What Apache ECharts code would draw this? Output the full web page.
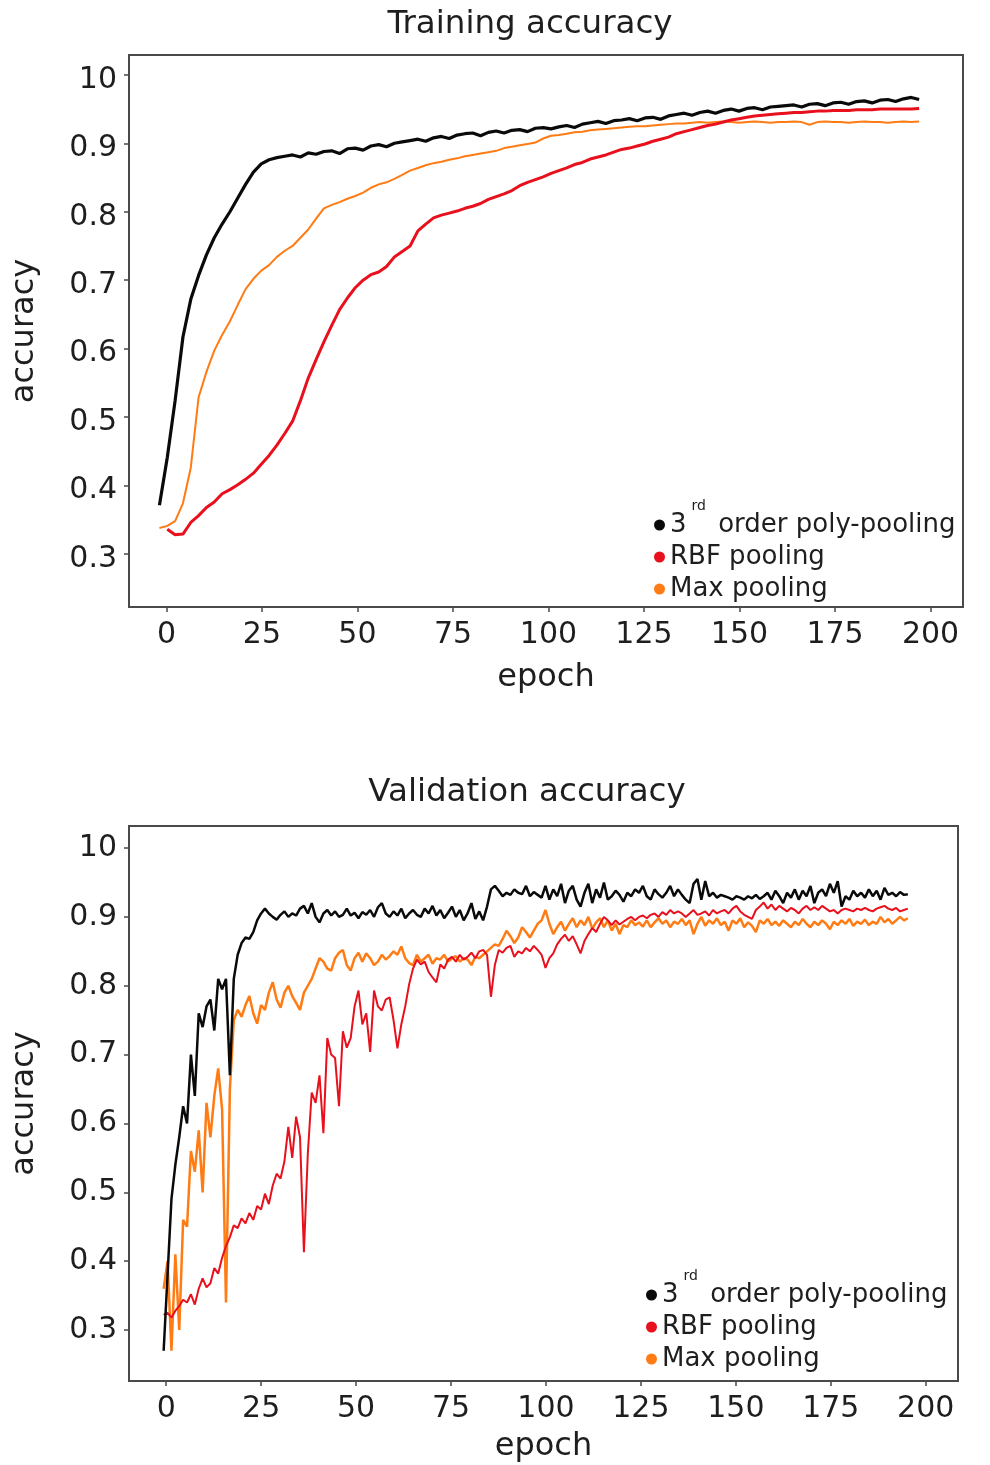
<!DOCTYPE html>
<html><head><meta charset="utf-8">
<script src="https://cdn.jsdelivr.net/npm/echarts@6/dist/echarts.min.js"></script>
<style>html,body{margin:0;padding:0;background:#fff}#c{width:990px;height:1465px}</style>
</head><body><div id="c"></div>
<script>
const seriesNames = ['3rd order poly-pooling', 'RBF pooling', 'Max pooling'];
const xTicks = [0, 25, 50, 75, 100, 125, 150, 175, 200];
const yTicks = [0.3, 0.4, 0.5, 0.6, 0.7, 0.8, 0.9, 1.0];

// epochs of the plotted points (start + i*step)
const trainEpochStart = -1.83, trainEpochStep = 2.05;
const valEpochStart = -1.7, valEpochStep = 1.026;

const trainPoly = [0.371,0.441,0.524,0.617,0.672,0.707,0.737,0.762,0.782,0.80,
 0.82,0.84,0.858,0.87,0.876,0.879,0.881,0.883,0.880,0.886,
 0.884,0.888,0.889,0.885,0.892,0.893,0.890,0.896,0.898,0.895,
 0.90,0.902,0.904,0.906,0.903,0.908,0.91,0.907,0.912,0.914,
 0.915,0.911,0.916,0.918,0.915,0.919,0.92,0.917,0.922,0.923,
 0.921,0.924,0.926,0.923,0.928,0.93,0.932,0.929,0.933,0.934,
 0.936,0.933,0.937,0.938,0.935,0.94,0.942,0.944,0.941,0.945,
 0.947,0.944,0.948,0.95,0.947,0.951,0.952,0.949,0.953,0.954,
 0.955,0.956,0.953,0.957,0.958,0.955,0.959,0.96,0.957,0.961,
 0.962,0.959,0.963,0.964,0.961,0.965,0.967,0.964];
const trainRBF = [null,0.336,0.328,0.329,0.346,0.356,0.368,0.376,0.388,0.394,
 0.401,0.409,0.418,0.431,0.444,0.459,0.476,0.494,0.524,0.557,
 0.584,0.61,0.634,0.657,0.674,0.689,0.70,0.708,0.712,0.72,
 0.734,0.742,0.75,0.772,0.782,0.791,0.795,0.798,0.801,0.805,
 0.808,0.812,0.818,0.822,0.826,0.831,0.838,0.843,0.847,0.851,
 0.856,0.86,0.864,0.869,0.872,0.877,0.88,0.883,0.887,0.891,
 0.893,0.896,0.899,0.903,0.906,0.909,0.914,0.917,0.92,0.923,
 0.926,0.928,0.931,0.934,0.936,0.938,0.94,0.941,0.942,0.943,
 0.944,0.945,0.945,0.946,0.947,0.947,0.948,0.948,0.948,0.949,
 0.949,0.949,0.95,0.95,0.95,0.95,0.95,0.951];
const trainMax = [0.338,0.341,0.348,0.374,0.426,0.529,0.566,0.597,0.62,0.64,
 0.664,0.687,0.702,0.714,0.722,0.734,0.743,0.75,0.762,0.774,
 0.79,0.805,0.81,0.814,0.819,0.823,0.828,0.835,0.84,0.843,
 0.848,0.854,0.86,0.864,0.868,0.871,0.873,0.876,0.878,0.881,
 0.883,0.885,0.887,0.889,0.893,0.895,0.897,0.899,0.901,0.907,
 0.911,0.912,0.914,0.916,0.917,0.919,0.92,0.921,0.922,0.923,
 0.924,0.925,0.925,0.926,0.927,0.928,0.929,0.929,0.93,0.931,
 0.93,0.931,0.932,0.931,0.93,0.931,0.932,0.931,0.93,0.931,
 0.931,0.932,0.931,0.927,0.931,0.932,0.931,0.931,0.93,0.931,
 0.932,0.931,0.931,0.93,0.931,0.932,0.931,0.932];

const valPoly = [null,0.27,0.38,0.49,0.54,0.58,0.625,0.60,0.70,0.64,
 0.76,0.74,0.77,0.78,0.735,0.81,0.795,0.81,0.67,0.81,
 0.845,0.862,0.87,0.868,0.878,0.895,0.905,0.912,0.905,0.90,
 0.896,0.903,0.908,0.90,0.905,0.902,0.912,0.916,0.905,0.92,
 0.90,0.892,0.905,0.91,0.902,0.908,0.90,0.903,0.912,0.902,
 0.906,0.898,0.907,0.903,0.91,0.90,0.914,0.92,0.905,0.90,
 0.908,0.902,0.912,0.898,0.905,0.91,0.903,0.90,0.912,0.905,
 0.916,0.902,0.91,0.898,0.906,0.915,0.90,0.91,0.895,0.905,
 0.92,0.897,0.908,0.895,0.915,0.94,0.945,0.938,0.93,0.935,
 0.932,0.94,0.935,0.933,0.945,0.93,0.936,0.932,0.928,0.945,
 0.925,0.94,0.93,0.948,0.92,0.938,0.945,0.925,0.915,0.935,
 0.948,0.92,0.94,0.928,0.95,0.925,0.93,0.938,0.932,0.922,
 0.935,0.93,0.94,0.935,0.945,0.93,0.925,0.94,0.933,0.928,
 0.935,0.945,0.93,0.94,0.932,0.925,0.92,0.948,0.955,0.925,
 0.952,0.93,0.935,0.928,0.932,0.93,0.928,0.925,0.93,0.928,
 0.925,0.93,0.927,0.932,0.926,0.93,0.935,0.925,0.938,0.93,
 0.92,0.935,0.928,0.94,0.925,0.938,0.93,0.945,0.92,0.935,
 0.94,0.93,0.948,0.935,0.952,0.915,0.93,0.925,0.938,0.93,
 0.935,0.928,0.94,0.93,0.938,0.925,0.942,0.932,0.935,0.93,
 0.936,0.932,0.933];
const valRBF = [null,0.322,0.325,0.318,0.328,0.335,0.344,0.34,0.352,0.337,
 0.36,0.375,0.362,0.368,0.39,0.382,0.405,0.422,0.435,0.452,
 0.448,0.462,0.455,0.47,0.46,0.48,0.475,0.498,0.483,0.51,
 0.527,0.52,0.545,0.595,0.55,0.61,0.58,0.413,0.556,0.645,
 0.63,0.67,0.586,0.724,0.70,0.695,0.625,0.734,0.71,0.724,
 0.77,0.793,0.744,0.76,0.704,0.793,0.77,0.764,0.78,0.783,
 0.75,0.709,0.744,0.77,0.802,0.825,0.838,0.831,0.835,0.82,
 0.812,0.805,0.831,0.825,0.838,0.842,0.835,0.845,0.838,0.842,
 0.848,0.84,0.85,0.852,0.845,0.784,0.83,0.852,0.848,0.855,
 0.858,0.842,0.85,0.847,0.855,0.85,0.858,0.852,0.845,0.826,
 0.84,0.847,0.86,0.868,0.874,0.865,0.872,0.86,0.847,0.865,
 0.875,0.884,0.878,0.89,0.90,0.895,0.888,0.895,0.889,0.893,
 0.897,0.90,0.895,0.90,0.902,0.898,0.903,0.905,0.90,0.907,
 0.903,0.91,0.905,0.908,0.905,0.90,0.905,0.91,0.903,0.905,
 0.908,0.902,0.91,0.905,0.908,0.91,0.905,0.912,0.916,0.908,
 0.903,0.90,0.897,0.91,0.915,0.921,0.912,0.918,0.91,0.916,
 0.912,0.908,0.913,0.91,0.905,0.912,0.916,0.91,0.914,0.91,
 0.916,0.912,0.908,0.91,0.905,0.91,0.912,0.91,0.908,0.912,
 0.91,0.913,0.91,0.908,0.912,0.914,0.916,0.912,0.91,0.913,
 0.908,0.91,0.912];
const valMax = [null,0.36,0.40,0.27,0.41,0.30,0.46,0.45,0.56,0.53,
 0.59,0.50,0.63,0.58,0.64,0.68,0.62,0.34,0.65,0.75,
 0.765,0.755,0.772,0.785,0.76,0.745,0.772,0.765,0.79,0.805,
 0.78,0.768,0.79,0.80,0.785,0.775,0.765,0.79,0.80,0.81,
 0.825,0.84,0.835,0.825,0.822,0.84,0.848,0.852,0.83,0.822,
 0.84,0.848,0.835,0.847,0.84,0.83,0.835,0.845,0.838,0.843,
 0.85,0.845,0.857,0.84,0.833,0.83,0.845,0.835,0.84,0.845,
 0.832,0.84,0.838,0.845,0.835,0.84,0.843,0.835,0.84,0.838,
 0.83,0.842,0.84,0.845,0.85,0.855,0.86,0.858,0.868,0.88,
 0.872,0.862,0.87,0.885,0.878,0.87,0.88,0.89,0.895,0.91,
 0.89,0.875,0.885,0.893,0.88,0.89,0.898,0.885,0.895,0.888,
 0.90,0.883,0.892,0.898,0.885,0.895,0.88,0.89,0.875,0.888,
 0.885,0.895,0.888,0.892,0.886,0.895,0.885,0.892,0.898,0.89,
 0.895,0.885,0.893,0.89,0.897,0.888,0.895,0.875,0.89,0.90,
 0.887,0.895,0.89,0.898,0.888,0.893,0.88,0.895,0.89,0.898,
 0.885,0.892,0.887,0.878,0.895,0.89,0.897,0.888,0.893,0.887,
 0.895,0.89,0.885,0.893,0.888,0.897,0.89,0.885,0.893,0.888,
 0.895,0.89,0.882,0.893,0.888,0.895,0.89,0.897,0.887,0.893,
 0.89,0.896,0.888,0.893,0.89,0.90,0.892,0.897,0.89,0.895,
 0.90,0.895,0.898];

const COLORS = { poly: '#0a0a0a', rbf: '#e8101c', max: '#ff7b14' };
const FONT = 'DejaVu Sans';
const TXT = '#1e1e1e';
const FRAME = '#4a4a4a';

function pairs(vals, start, step) {
  return vals.map((v, i) => [+(start + i * step).toFixed(3), v]).filter(p => p[1] !== null);
}

function xAxisFor(gridIndex, nameGap) {
  return {
    type: 'value', gridIndex: gridIndex, min: -9.8, max: 208.5,
    axisLine: { show: true, onZero: false, lineStyle: { color: FRAME, width: 2 } },
    axisTick: { show: true, customValues: xTicks, length: 5, lineStyle: { color: FRAME, width: 1.5 } },
    axisLabel: { customValues: xTicks, fontSize: 30, color: TXT, fontFamily: FONT, margin: 13 },
    splitLine: { show: false },
    name: 'epoch', nameLocation: 'middle', nameGap: nameGap,
    nameTextStyle: { fontSize: 32, color: TXT, fontFamily: FONT }
  };
}
function yAxisFor(gridIndex, min, max, labelShift) {
  const label = { customValues: yTicks, fontSize: 30, color: TXT, fontFamily: FONT, margin: 12,
      formatter: v => Math.abs(v - 1) < 1e-9 ? '10' : v.toFixed(1) };
  if (labelShift > 0) { label.verticalAlign = 'top'; label.lineHeight = labelShift * 2; }
  return {
    type: 'value', gridIndex: gridIndex, min: min, max: max,
    axisLine: { show: true, onZero: false, lineStyle: { color: FRAME, width: 2 } },
    axisTick: { show: true, customValues: yTicks, length: 5, lineStyle: { color: FRAME, width: 1.5 } },
    axisLabel: label,
    splitLine: { show: false },
    name: 'accuracy', nameLocation: 'middle', nameGap: 88, nameRotate: 90,
    nameTextStyle: { fontSize: 32, color: TXT, fontFamily: FONT }
  };
}
function lineSeries(name, data, color, width, idx) {
  return {
    type: 'line', name: name, data: data, xAxisIndex: idx, yAxisIndex: idx,
    showSymbol: false, symbol: 'circle', color: color,
    lineStyle: { color: color, width: width }, animation: false
  };
}
function legendFor(left, top) {
  return {
    data: seriesNames, orient: 'vertical', left: left, top: top, padding: 0,
    icon: 'circle', itemWidth: 11, itemHeight: 11, itemGap: 1,
    formatter: name => name === seriesNames[0] ? '{n|3}{s|rd}{n| order poly-pooling}' : name,
    textStyle: {
      fontSize: 26, color: TXT, fontFamily: FONT, lineHeight: 31,
      rich: {
        n: { fontSize: 26, color: TXT, fontFamily: FONT, lineHeight: 31, verticalAlign: 'middle' },
        s: { fontSize: 14, color: TXT, fontFamily: FONT, lineHeight: 1, height: 1,
             padding: [-4, 4, 0, 5], verticalAlign: 'top' }
      }
    }
  };
}

const chart = echarts.init(document.getElementById('c'), null, { renderer: 'canvas' });
chart.setOption({
  backgroundColor: '#ffffff',
  animation: false,
  title: [
    { text: 'Training accuracy', left: 530, top: 8, textAlign: 'center', padding: 0,
      textStyle: { fontSize: 32.5, fontWeight: 'normal', color: TXT, fontFamily: FONT } },
    { text: 'Validation accuracy', left: 527, top: 776, textAlign: 'center', padding: 0,
      textStyle: { fontSize: 32.5, fontWeight: 'normal', color: TXT, fontFamily: FONT } }
  ],
  grid: [
    { left: 129, top: 55, width: 834, height: 552, show: true, borderColor: FRAME, borderWidth: 2, backgroundColor: 'transparent' },
    { left: 129, top: 826, width: 829, height: 555, show: true, borderColor: FRAME, borderWidth: 2, backgroundColor: 'transparent' }
  ],
  xAxis: [xAxisFor(0, 55), xAxisFor(1, 50)],
  yAxis: [yAxisFor(0, 0.2225, 1.029, 5), yAxisFor(1, 0.226, 1.032, 0)],
  legend: [legendFor(654, 499), legendFor(646, 1269)],
  series: [
    lineSeries(seriesNames[2], pairs(trainMax, trainEpochStart, trainEpochStep), COLORS.max, 2, 0),
    lineSeries(seriesNames[1], pairs(trainRBF, trainEpochStart, trainEpochStep), COLORS.rbf, 3, 0),
    lineSeries(seriesNames[0], pairs(trainPoly, trainEpochStart, trainEpochStep), COLORS.poly, 3.2, 0),
    lineSeries(seriesNames[2], pairs(valMax, valEpochStart, valEpochStep), COLORS.max, 2.5, 1),
    lineSeries(seriesNames[1], pairs(valRBF, valEpochStart, valEpochStep), COLORS.rbf, 2, 1),
    lineSeries(seriesNames[0], pairs(valPoly, valEpochStart, valEpochStep), COLORS.poly, 2.5, 1)
  ]
});
</script></body></html>
